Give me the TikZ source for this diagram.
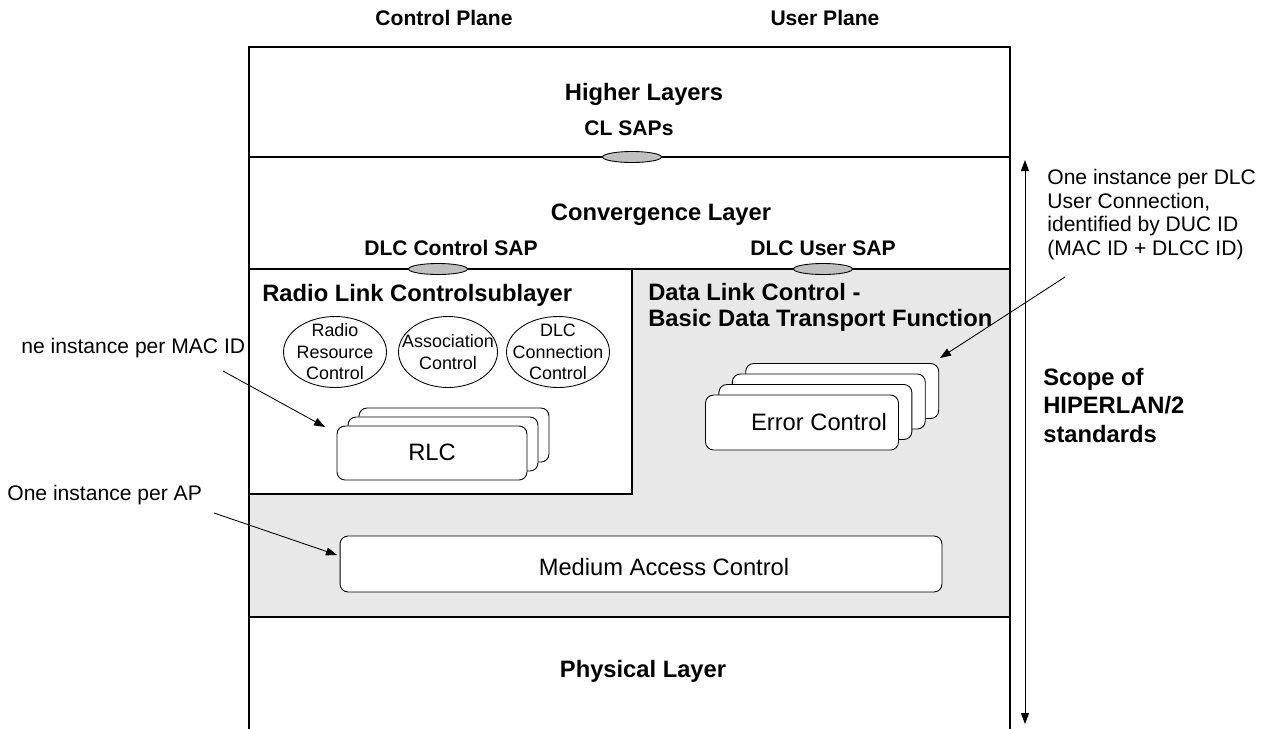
\documentclass[tikz,border=0pt]{standalone}
\usepackage{fontspec}
\setmainfont{Liberation Sans}
\usepackage{tikz}
\usetikzlibrary{arrows.meta,shapes.geometric,positioning}
\definecolor{dlcgray}{RGB}{232,232,232}
\definecolor{sapgray}{RGB}{192,192,192}
\tikzset{
    %Define standard arrow tip
    >={Triangle[length=2.2mm,width=1.6mm]},
    % Define layer border style
    layer/.style={
           line width=1.1pt,
           },
    title/.style={
           font=\fontsize{13.5}{16}\selectfont\bfseries,
           inner sep=0pt,
           anchor=base,
           },
    saplabel/.style={
           font=\fontsize{12}{14}\selectfont\bfseries,
           inner sep=0pt,
           anchor=base,
           },
    sap/.style={
           ellipse, draw, fill=sapgray,
           minimum width=1.18cm, minimum height=0.22cm,
           inner sep=0pt, line width=0.5pt,
           },
    func/.style={
           ellipse, draw, fill=white,
           minimum width=2.06cm, minimum height=1.42cm,
           inner sep=0pt, line width=0.5pt,
           },
    functext/.style={
           font=\fontsize{10.2}{12.2}\selectfont,
           align=center, inner sep=0pt,
           },
    stackbox/.style={
           draw, fill=white, rounded corners=1.6mm,
           minimum width=3.8cm, minimum height=1.08cm,
           inner sep=0pt, line width=0.5pt,
           },
    boxtext/.style={
           font=\fontsize{13.5}{16}\selectfont,
           inner sep=0pt,
           anchor=base,
           },
    note/.style={
           font=\fontsize{12}{13.3}\selectfont,
           inner sep=0pt, align=left,
           anchor=base west,
           },
    % Define arrow style
    pointer/.style={
           ->,
           line width=0.5pt,
           },
}
\begin{document}
\begin{tikzpicture}[x=0.02cm,y=-0.02cm]
  	\useasboundingbox (0,0) rectangle (1265,728);
  	% layers
  	\fill[dlcgray] (249,269) rectangle (1010,617);
  	\draw[line width=0.6pt,fill=white] (249,269) rectangle (632,494);
  	\draw[layer] (249,740) -- (249,47) -- (1010,47) -- (1010,740);
  	\draw[layer] (249,157) -- (1010,157);
  	\draw[layer] (249,269) -- (1010,269);
  	\draw[layer] (249,617) -- (1010,617);
  	% SAPs
  	\node (clsap) at (632,157) [sap] {};
  	\node (ctrlsap) at (438,269) [sap] {};
  	\node (usersap) at (823,269) [sap] {};
  	% labels
  	\node (cp) at (444,25) [saplabel] {Control Plane};
  	\node (up) at (825,25) [saplabel] {User Plane};
  	\node (hl) at (644,100) [title] {Higher Layers};
  	\node (cls) at (629,135) [saplabel] {CL SAPs};
  	\node (conv) at (661,220) [title] {Convergence Layer};
  	\node (dcs) at (451,255) [saplabel] {DLC Control SAP};
  	\node (dus) at (823,255) [saplabel] {DLC User SAP};
  	\node (rlcs) at (262,301) [title,anchor=base west] {Radio Link Controlsublayer};
  	\node (dlc) at (648,326) [title,anchor=base west,align=left,font=\fontsize{13.5}{14.3}\selectfont\bfseries] {Data Link Control -\\Basic Data Transport Function};
  	\node (phy) at (643,677) [title] {Physical Layer};
  	% RLC functions
  	\node (rrc) at (335,352) [func] {};
  	\node (assoc) at (448,352) [func,minimum width=1.98cm] {};
  	\node (dcc) at (558,352) [func] {};
  	\node at (rrc) [functext] {Radio\\Resource\\Control};
  	\node at (assoc) [functext] {Association\\Control};
  	\node at (dcc) [functext] {DLC\\Connection\\Control};
  	% stacked instances
  	\foreach \i in {2,1,0}{
  	  \node (rlc\i) at ({432+11*\i},{453-9*\i}) [stackbox] {};
  	}
  	\node (rlctext) at (432,460) [boxtext] {RLC};
  	\foreach \i in {3,2,1,0}{
  	  \node (ec\i) at ({802+13.4*\i},{422.5-10.5*\i}) [stackbox,minimum width=3.86cm,minimum height=1.1cm] {};
  	}
  	\node (ectext) at (819,430) [boxtext] {Error Control};
  	\node (mac) at (641,564) [stackbox,minimum width=12.04cm,minimum height=1.12cm] {};
  	\node (mactext) at (664,575) [boxtext] {Medium Access Control};
  	% scope
  	\coordinate (scopetop) at (1025,160);
  	\coordinate (scopebot) at (1025,724);
  	\draw [<->,line width=0.5pt] (scopetop) -- (scopebot);
  	\node (scope) at (1043,442) [title,anchor=base west,align=left] {Scope of\\HIPERLAN/2\\standards};
  	% notes
  	\node (macnote) at (21,353) [note] {ne instance per MAC ID};
  	\node (apnote) at (7,500) [note] {One instance per AP};
  	\node (ducnote) at (1047,255) [note] {One instance per DLC\\User Connection,\\identified by DUC ID\\(MAC ID + DLCC ID)};
  	\coordinate (macfrom) at (223,371);
  	\coordinate (macto) at (325,427);
  	\coordinate (apfrom) at (214,513);
  	\coordinate (apto) at (337,555);
  	\coordinate (ducfrom) at (1065,277);
  	\coordinate (ducto) at (940,358);
  	\draw [pointer] (macfrom) -- (macto);
  	\draw [pointer] (apfrom) -- (apto);
  	\draw [pointer] (ducfrom) -- (ducto);
\end{tikzpicture}
\end{document}
